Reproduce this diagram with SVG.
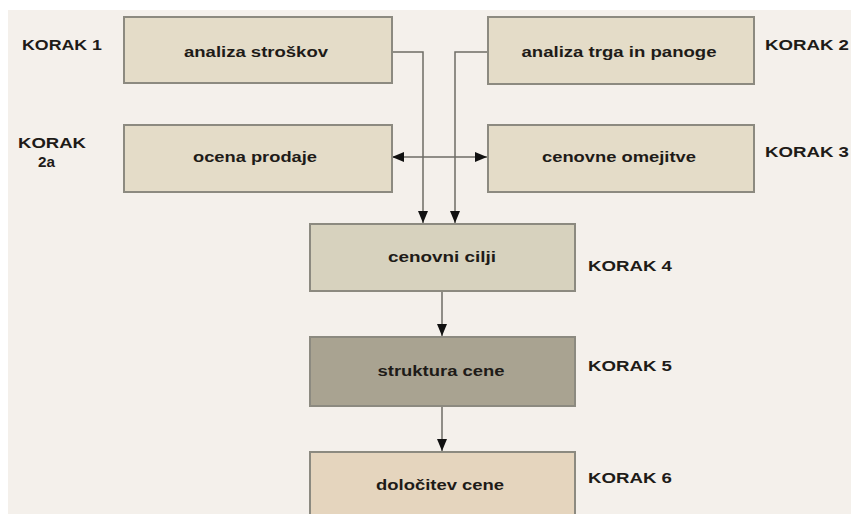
<svg xmlns="http://www.w3.org/2000/svg" width="851" height="514" viewBox="0 0 851 514">
<defs>
<style>
.box{stroke:#8c8a80;stroke-width:2}
.t{font-family:"Liberation Sans",Arial,sans-serif;font-weight:bold;font-size:14px;fill:#1e1b18;text-anchor:middle}
.k{font-family:"Liberation Sans",Arial,sans-serif;font-weight:bold;font-size:15px;fill:#1e1b18}
.c{stroke:#6e6c66;stroke-width:1.5;fill:none}
</style>
<marker id="ah" viewBox="0 0 12 10" refX="12" refY="5" markerWidth="12" markerHeight="10" markerUnits="userSpaceOnUse" orient="auto-start-reverse">
<path d="M0,0 L12,5 L0,10 z" fill="#111"/>
</marker>
</defs>
<rect x="0" y="0" width="851" height="514" fill="#ffffff"/>
<rect x="8" y="10" width="843" height="504" fill="#f4f0eb"/>

<g id="connectors">
<polyline class="c" points="392,52 423,52 423,223" marker-end="url(#ah)"/>
<polyline class="c" points="488,52 455,52 455,223" marker-end="url(#ah)"/>
<line class="c" x1="392" y1="157" x2="487" y2="157" marker-start="url(#ah)" marker-end="url(#ah)"/>
<line class="c" x1="442" y1="291" x2="442" y2="336" marker-end="url(#ah)"/>
<line class="c" x1="442" y1="406" x2="442" y2="451" marker-end="url(#ah)"/>
</g>

<g id="n1">
<rect class="box" x="124" y="17" width="268" height="66" fill="#e4dcc8"/>
<text class="t" x="256" y="57" textLength="144" lengthAdjust="spacingAndGlyphs">analiza stroškov</text>
</g>
<g id="n2">
<rect class="box" x="488" y="17" width="266" height="67" fill="#e4dcc8"/>
<text class="t" x="619" y="57" textLength="195" lengthAdjust="spacingAndGlyphs">analiza trga in panoge</text>
</g>
<g id="n2a">
<rect class="box" x="124" y="125" width="268" height="67" fill="#e4dcc8"/>
<text class="t" x="255" y="162" textLength="124" lengthAdjust="spacingAndGlyphs">ocena prodaje</text>
</g>
<g id="n3">
<rect class="box" x="488" y="125" width="266" height="67" fill="#e4dcc8"/>
<text class="t" x="619" y="162" textLength="154" lengthAdjust="spacingAndGlyphs">cenovne omejitve</text>
</g>
<g id="n4">
<rect class="box" x="310" y="224" width="265" height="67" fill="#d7d2be"/>
<text class="t" x="442" y="262" textLength="108" lengthAdjust="spacingAndGlyphs">cenovni cilji</text>
</g>
<g id="n5">
<rect class="box" x="310" y="337" width="265" height="69" fill="#a9a391"/>
<text class="t" x="441" y="376" textLength="127" lengthAdjust="spacingAndGlyphs">struktura cene</text>
</g>
<g id="n6">
<rect class="box" x="310" y="452" width="265" height="70" fill="#e5d5be"/>
<text class="t" x="440" y="490" textLength="128" lengthAdjust="spacingAndGlyphs">določitev cene</text>
</g>

<g id="labels">
<text class="k" x="22" y="50" textLength="80" lengthAdjust="spacingAndGlyphs">KORAK 1</text>
<text class="k" x="765" y="50" textLength="84" lengthAdjust="spacingAndGlyphs">KORAK 2</text>
<text class="k" x="18" y="148" textLength="68" lengthAdjust="spacingAndGlyphs">KORAK</text>
<text class="k" x="38" y="167" textLength="17" lengthAdjust="spacingAndGlyphs">2a</text>
<text class="k" x="765" y="157" textLength="84" lengthAdjust="spacingAndGlyphs">KORAK 3</text>
<text class="k" x="588" y="271" textLength="84" lengthAdjust="spacingAndGlyphs">KORAK 4</text>
<text class="k" x="588" y="371" textLength="84" lengthAdjust="spacingAndGlyphs">KORAK 5</text>
<text class="k" x="588" y="483" textLength="84" lengthAdjust="spacingAndGlyphs">KORAK 6</text>
</g>
</svg>
